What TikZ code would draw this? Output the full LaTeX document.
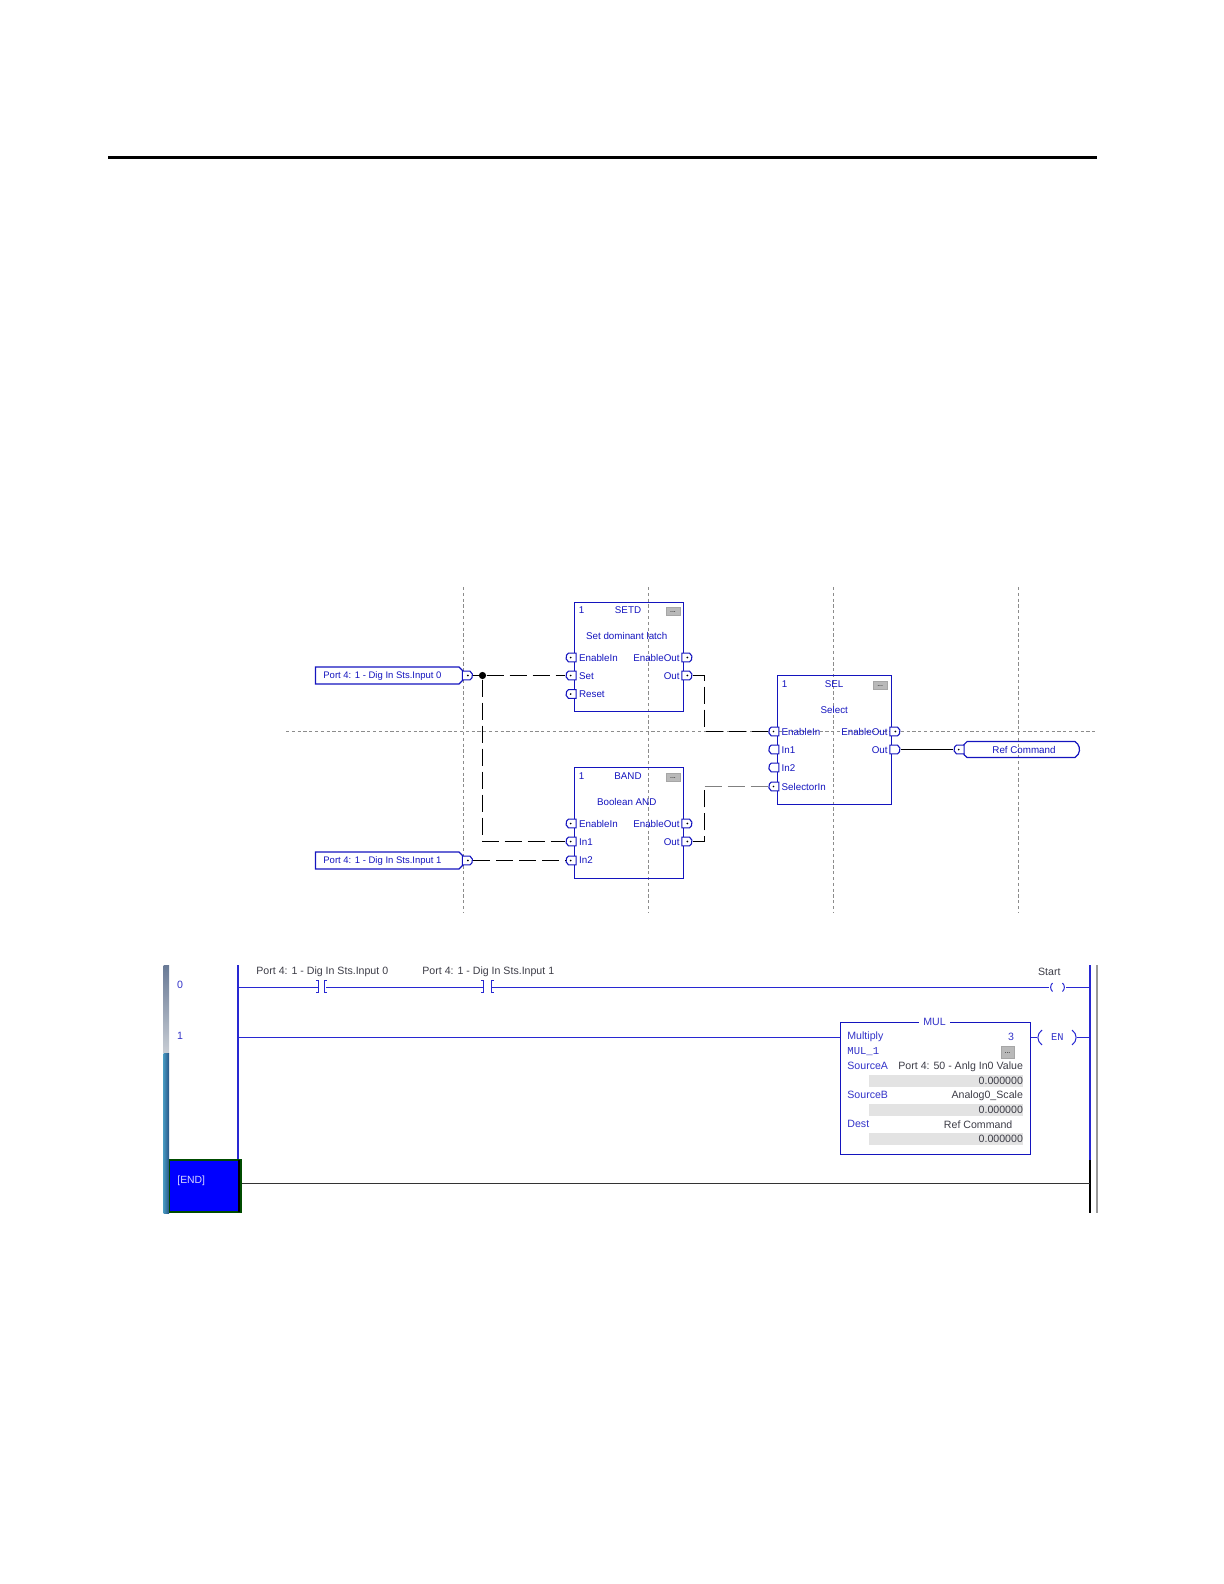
\documentclass[tikz,border=0pt]{standalone}
\usepackage{fontspec}
\setmainfont{Liberation Sans}
\newfontfamily\monof{Liberation Mono}
\usetikzlibrary{shapes.misc,shapes.symbols}
\definecolor{fbd}{RGB}{20,20,190}
\definecolor{ladtxt}{RGB}{60,60,70}
\definecolor{ladblue}{RGB}{40,40,210}
\definecolor{lbl}{RGB}{50,50,200}
\definecolor{gridc}{RGB}{140,140,140}
\definecolor{barA}{RGB}{105,122,150}
\definecolor{barB}{RGB}{200,205,212}
\definecolor{barC}{RGB}{70,150,190}
\definecolor{barD}{RGB}{40,85,135}
\tikzset{
  x=0.5pt,y=-0.5pt,
  gridline/.style={gridc,line width=0.45pt,dash pattern=on 1.6pt off 1.3pt},
  block/.style={draw=fbd,line width=0.6pt,inner sep=0pt},
  ftxt/.style={inner sep=0pt,text=fbd,font=\fontsize{4.9}{5}\selectfont},
  tagtxt/.style={inner sep=0pt,text=fbd,font=\fontsize{4.75}{5}\selectfont},
  ltxt/.style={inner sep=0pt,text=ladtxt,font=\fontsize{5.3}{6}\selectfont},
  mtxt/.style={inner sep=0pt,text=lbl,font=\fontsize{5.3}{6}\selectfont},
  portl/.style={draw=fbd,line width=0.55pt,fill=white,inner sep=0pt,rounded rectangle,rounded rectangle east arc=none,rounded rectangle arc length=120,minimum width=3.8pt,minimum height=4.4pt},
  portr/.style={draw=fbd,line width=0.55pt,fill=white,inner sep=0pt,rounded rectangle,rounded rectangle west arc=none,rounded rectangle arc length=120,minimum width=3.8pt,minimum height=4.4pt},
  dotted port/.style={path picture={\fill[black] (path picture bounding box.center) circle (0.45pt);}},
  tagshape/.style={draw=fbd,line width=0.6pt,inner sep=0pt,signal,signal to=east,signal pointer angle=90,minimum height=8.5pt,minimum width=76pt},
  pill/.style={draw=fbd,line width=0.6pt,inner sep=0pt,rounded rectangle,rounded rectangle arc length=120,minimum width=58.5pt,minimum height=8pt},
  btn/.style={fill=gray!55,draw=gray!70,line width=0.3pt,inner sep=0pt,text=black,font=\fontsize{3.5}{4}\selectfont,text height=1.2pt,text depth=0pt},
  wire/.style={black,line width=0.55pt,dash pattern=on 8.5pt off 3pt},
  faintwire/.style={gray,line width=0.55pt,dash pattern=on 8.5pt off 3pt},
  solidwire/.style={black,line width=0.65pt},
  junction/.style={circle,fill=black,inner sep=0pt,minimum size=3.6pt},
  rung/.style={ladblue,line width=0.6pt},
  contact/.style={ladblue,line width=0.5pt},
  rowbar/.style={fill=gray!22,inner sep=0pt,minimum height=5.9pt,minimum width=77pt},
}
\begin{document}
\begin{tikzpicture}
\useasboundingbox (0,0) rectangle (1224,1584);
% top rule
\draw[black,line width=1.5pt] (108,157.5) -- (1097,157.5);
% grid
\draw[gridline] (463.3,587) -- (463.3,913);
\draw[gridline] (648.7,587) -- (648.7,913);
\draw[gridline] (833.7,587) -- (833.7,913);
\draw[gridline] (1018.3,587) -- (1018.3,913);
\draw[gridline] (286,731.3) -- (1097,731.3);
% blocks
\node[block,minimum width=54.5pt,minimum height=54.3pt] (setd) at (628.8,657) {};
\node[block,minimum width=54.5pt,minimum height=55.3pt] (band) at (628.8,823) {};
\node[block,minimum width=57.2pt,minimum height=64.3pt] (sel) at (834.5,740) {};
% SETD text
\node[ftxt,anchor=west] (setdN) at (578.5,610.5) {1};
\node[ftxt] (setdT) at (628,610.5) {SETD};
\node[btn,minimum width=7pt,minimum height=4pt] (setdB) at (673,611.3) {...};
\node[ftxt] (setdD) at (626.7,635.5) {Set dominant latch};
\node[ftxt,anchor=west] (setdL1) at (578.7,657.8) {EnableIn};
\node[ftxt,anchor=west] (setdL2) at (578.7,676.2) {Set};
\node[ftxt,anchor=west] (setdL3) at (578.7,694.5) {Reset};
\node[ftxt,anchor=east] (setdR1) at (680,657.8) {EnableOut};
\node[ftxt,anchor=east] (setdR2) at (680,676.2) {Out};
% BAND text
\node[ftxt,anchor=west] (bandN) at (578.5,775.8) {1};
\node[ftxt] (bandT) at (628,775.8) {BAND};
\node[btn,minimum width=7pt,minimum height=4pt] (bandB) at (673,777.3) {...};
\node[ftxt] (bandD) at (626.7,802.2) {Boolean AND};
\node[ftxt,anchor=west] (bandL1) at (578.7,823.8) {EnableIn};
\node[ftxt,anchor=west] (bandL2) at (578.7,841.8) {In1};
\node[ftxt,anchor=west] (bandL3) at (578.7,860.5) {In2};
\node[ftxt,anchor=east] (bandR1) at (680,823.8) {EnableOut};
\node[ftxt,anchor=east] (bandR2) at (680,841.8) {Out};
% SEL text
\node[ftxt,anchor=west] (selN) at (781.5,683.8) {1};
\node[ftxt] (selT) at (834,683.8) {SEL};
\node[btn,minimum width=7.3pt,minimum height=4pt] (selB) at (880.2,685.2) {...};
\node[ftxt] (selD) at (834.3,709.5) {Select};
\node[ftxt,anchor=west] (selL1) at (781.3,731.5) {EnableIn};
\node[ftxt,anchor=west] (selL2) at (781.3,749.8) {In1};
\node[ftxt,anchor=west] (selL3) at (781.3,768.2) {In2};
\node[ftxt,anchor=west] (selL4) at (781.3,786.8) {SelectorIn};
\node[ftxt,anchor=east] (selR1) at (888,731.5) {EnableOut};
\node[ftxt,anchor=east] (selR2) at (888,749.8) {Out};
% ports
\node[portl,dotted port] (pSetdEn) at (571,657.5) {};
\node[portl,dotted port] (pSetdSet) at (571,675.5) {};
\node[portl,dotted port] (pSetdRes) at (571,694) {};
\node[portr,dotted port] (pSetdEo) at (687,657.5) {};
\node[portr,dotted port] (pSetdOut) at (687,675.5) {};
\node[portl,dotted port] (pBandEn) at (571,823.5) {};
\node[portl,dotted port] (pBandIn1) at (571,841.5) {};
\node[portl,dotted port] (pBandIn2) at (571,860.5) {};
\node[portr,dotted port] (pBandEo) at (687,823.5) {};
\node[portr,dotted port] (pBandOut) at (687,841.5) {};
\node[portl,dotted port] (pSelEn) at (773.8,731.5) {};
\node[portl] (pSelIn1) at (773.8,749.5) {};
\node[portl] (pSelIn2) at (773.8,767.5) {};
\node[portl,dotted port] (pSelSel) at (773.8,786.5) {};
\node[portr,dotted port] (pSelEo) at (895,731.5) {};
\node[portr] (pSelOut) at (895,749.5) {};
% tags
\node[tagshape] (tag1) at (387.3,675.5) {};
\node[tagshape] (tag2) at (387.3,860.5) {};
\node[tagtxt,anchor=west] (tag1T) at (323,676.2) {Port 4: 1 - Dig In Sts.Input 0};
\node[tagtxt,anchor=west] (tag2T) at (323,860.9) {Port 4: 1 - Dig In Sts.Input 1};
\node[portr,dotted port] (pTag1) at (467.5,675.5) {};
\node[portr,dotted port] (pTag2) at (467.5,860.5) {};
\node[pill] (ref) at (1021,749.5) {};
\node[ftxt] (refT) at (1024,749.8) {Ref Command};
\node[portl,dotted port] (pRef) at (959,749.5) {};
% wires
\node[junction] (jn) at (482.5,675.5) {};
\coordinate (busA) at (704.5,731.5);
\coordinate (busB) at (704.5,786.5);
\draw[solidwire] (pTag1.east) -- (jn);
\draw[wire] (jn) -- (pSetdSet.west);
\draw[wire] (jn) |- (pBandIn1.west);
\draw[wire] (pTag2.east) -- (pBandIn2.west);
\draw[wire] (pSetdOut.east) -| (busA) -- (pSelEn.west);
\draw[wire] (pBandOut.east) -| (busB);
\draw[faintwire] (busB) -- (pSelSel.west);
\draw[solidwire] (pSelOut.east) -- (pRef.west);
% ladder: left bar
\shade[top color=barA,bottom color=barB] (163.5,965) rectangle (169,1053);
\shade[left color=barC,right color=barD] (163.5,1053) rectangle (169,1213);
% rails
\draw[ladblue,line width=0.9pt] (238.3,965) -- (238.3,1160);
\draw[ladblue,line width=0.9pt] (1090,965) -- (1090,1160);
\draw[black,line width=0.9pt] (1090,1160) -- (1090,1213);
\draw[gray!80,line width=0.9pt] (1096.7,965) -- (1096.7,1213);
% contacts and coil
\coordinate (railL0) at (238.3,987.3);
\coordinate (railR0) at (1090,987.3);
\coordinate (railL1) at (238.3,1037.3);
\coordinate (railR1) at (1090,1037.3);
\coordinate (railR2) at (1090,1183.3);
\coordinate (c1a) at (318.3,987.3);
\coordinate (c1b) at (326,987.3);
\coordinate (c2a) at (483.5,987.3);
\coordinate (c2b) at (492,987.3);
\coordinate (coilA) at (1049,987.3);
\coordinate (coilB) at (1066,987.3);
\draw[rung] (railL0) -- (c1a);
\draw[rung] (c1b) -- (c2a);
\draw[rung] (c2b) -- (coilA);
\draw[rung] (coilB) -- (railR0);
\draw[contact] (316,980.5) -- (318.3,980.5) -- (318.3,992.7) -- (316,992.7);
\draw[contact] (327,980.5) -- (324.7,980.5) -- (324.7,992.7) -- (327,992.7);
\draw[contact] (481.2,980.5) -- (483.5,980.5) -- (483.5,992.7) -- (481.2,992.7);
\draw[contact] (494,980.5) -- (491.7,980.5) -- (491.7,992.7) -- (494,992.7);
\draw[contact] (1052.5,983) .. controls (1050,985.5) and (1050,989) .. (1052.5,991.5);
\draw[contact] (1062.5,983) .. controls (1065,985.5) and (1065,989) .. (1062.5,991.5);
% rung labels
\node[ltxt,anchor=west] (lab1) at (256,972) {Port 4: 1 - Dig In Sts.Input 0};
\node[ltxt,anchor=west] (lab2) at (422,972) {Port 4: 1 - Dig In Sts.Input 1};
\node[ltxt,anchor=west] (lab3) at (1037.7,972) {Start};
\node[mtxt] (num0) at (180,984.5) {0};
\node[mtxt] (num1) at (180,1035.5) {1};
% MUL
\node[draw=fbd,line width=0.6pt,inner sep=0pt,minimum width=95pt,minimum height=66pt] (mul) at (935.3,1088.3) {};
\node[mtxt,fill=white,inner xsep=2pt,inner ysep=0.5pt] (mulT) at (934.5,1022.3) {MUL};
\draw[rung] (railL1) -- (mul.west |- railL1);
\node[mtxt,anchor=west] (mulA) at (847,1037) {Multiply};
\node[mtxt,anchor=east] (mulB) at (1014.3,1037) {3};
\node[mtxt,anchor=west,font=\monof\fontsize{5.3}{6}\selectfont] (mulC) at (847,1052) {MUL\_1};
\node[btn,minimum width=6.5pt,minimum height=5.7pt] (mulBtn) at (1007.5,1052.3) {...};
\node[mtxt,anchor=west] (mulD) at (847,1066.3) {SourceA};
\node[ltxt,anchor=east] (mulE) at (1023.3,1066.3) {Port 4: 50 - Anlg In0 Value};
\node[rowbar] (bar1) at (946.3,1080.8) {};
\node[ltxt,anchor=east] (mulF) at (1023.3,1080.5) {0.000000};
\node[mtxt,anchor=west] (mulG) at (847,1095.3) {SourceB};
\node[ltxt,anchor=east] (mulH) at (1023.3,1095.3) {Analog0\_Scale};
\node[rowbar] (bar2) at (946.3,1110) {};
\node[ltxt,anchor=east] (mulI) at (1023.3,1109.5) {0.000000};
\node[mtxt,anchor=west] (mulJ) at (847,1124.3) {Dest};
\node[ltxt,anchor=east] (mulK) at (1012.7,1124.3) {Ref Command};
\node[rowbar] (bar3) at (946.3,1138.7) {};
\node[ltxt,anchor=east] (mulL) at (1023.3,1138.5) {0.000000};
% EN
\node[mtxt,font=\monof\fontsize{5.2}{6}\selectfont] (en) at (1057.3,1037.3) {EN};
\coordinate (enA) at (1037,1037.3);
\coordinate (enB) at (1077,1037.3);
\draw[rung] (mul.east |- railR1) -- (enA);
\draw[rung] (enB) -- (railR1);
\draw[contact] (1042,1030) .. controls (1036.5,1034) and (1036.5,1041) .. (1042,1045);
\draw[contact] (1072,1030) .. controls (1077.5,1034) and (1077.5,1041) .. (1072,1045);
% END
\node[draw=green!30!black,line width=0.7pt,fill=blue,inner sep=0pt,minimum width=35.7pt,minimum height=26pt] (endbox) at (205.2,1186) {};
\draw[black,line width=0.6pt] (239,1160) -- (239,1212);
\node[anchor=west,inner sep=0pt,text=white!85!blue,font=\fontsize{5.2}{6}\selectfont] (endT) at (177,1180.5) {[END]};
\draw[black!80,line width=0.6pt] (endbox.east |- railR2) -- (railR2);
\end{tikzpicture}
\end{document}
